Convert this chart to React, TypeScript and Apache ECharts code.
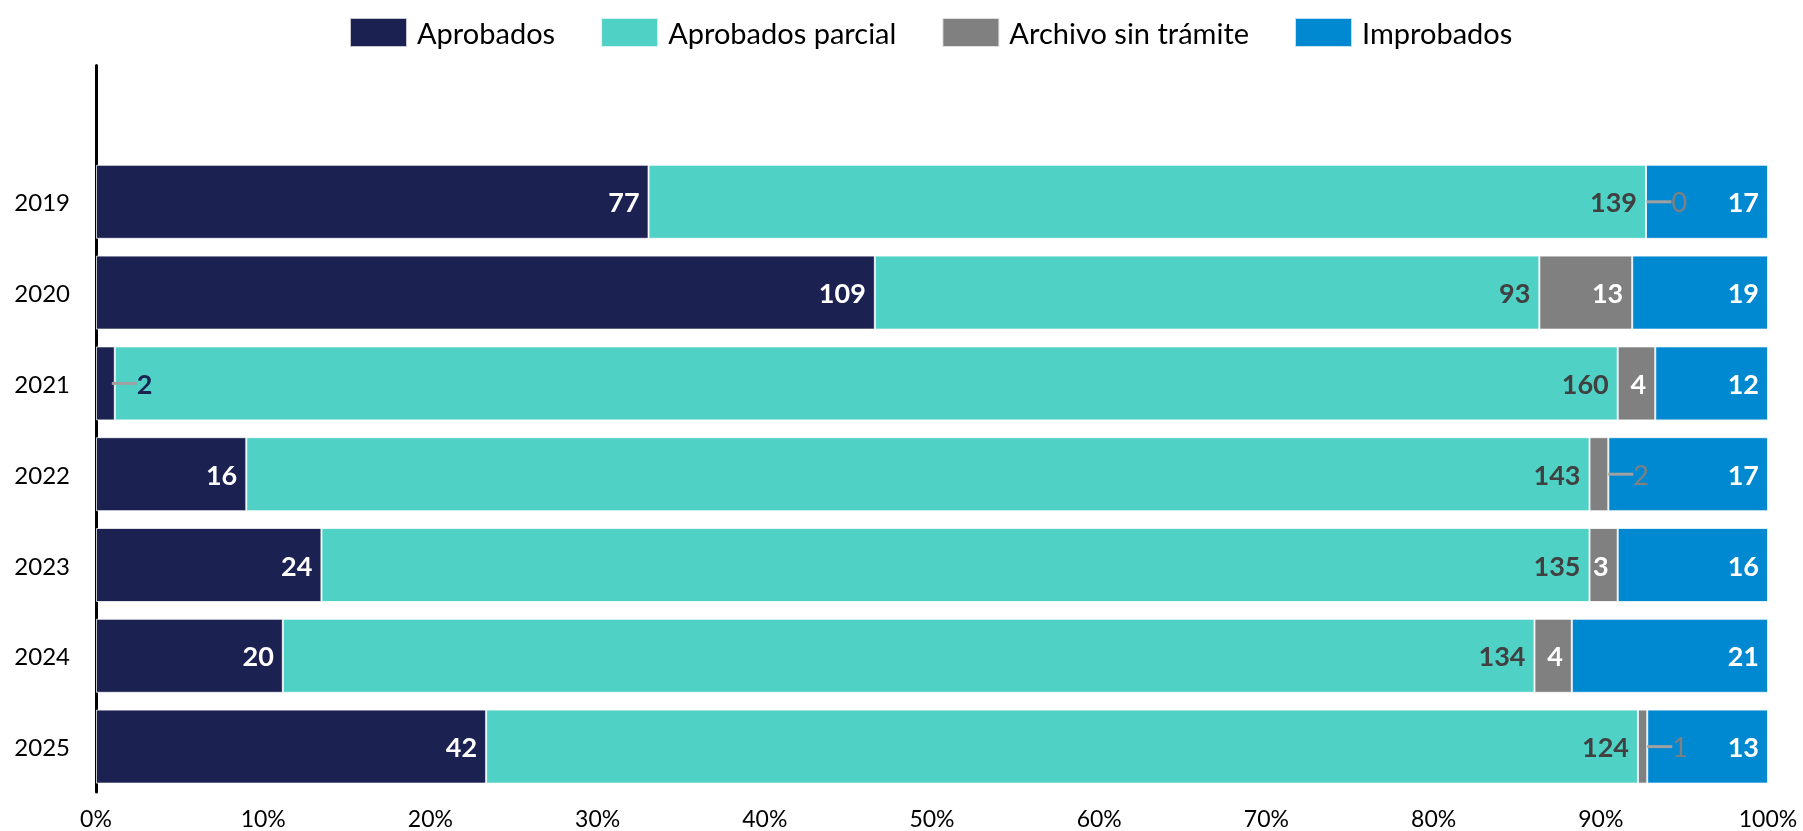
import React, { useEffect, useRef } from "react";
import * as echarts from "echarts";

const years = ["2019", "2020", "2021", "2022", "2023", "2024", "2025"];
const aprobados = [77, 109, 2, 16, 24, 20, 42];
const aprobadosParcial = [139, 93, 160, 143, 135, 134, 124];
const archivoSinTramite = [0, 13, 4, 2, 3, 4, 1];
const improbados = [17, 19, 12, 17, 16, 21, 13];
const xTicks = [0, 10, 20, 30, 40, 50, 60, 70, 80, 90, 100];

const seriesNames = ["Aprobados", "Aprobados parcial", "Archivo sin trámite", "Improbados"];
const colors = ["#1b2150", "#4fd1c5", "#808080", "#0088d1"];
const labelColors = ["#ffffff", "#404040", "#ffffff", "#ffffff"];
// small segments whose label sits outside with a leader line: [seriesIndex, yearIndex, textColor, bold]
const outsideLabels: [number, number, string, boolean][] = [
  [2, 0, "#808080", false],
  [0, 2, "#1b2150", true],
  [2, 3, "#808080", false],
  [2, 6, "#808080", false],
];

export default function App() {
  const ref = useRef<HTMLDivElement>(null);
  useEffect(() => {
    if (!ref.current) return;
    const chart = echarts.init(ref.current, undefined, { renderer: "svg" });
    const raw = [aprobados, aprobadosParcial, archivoSinTramite, improbados];
    const totals = years.map((_, i) => raw.reduce((s, arr) => s + arr[i], 0));
    const order = years.map((_, i) => years.length - 1 - i); // bottom to top
    const cats = [...order.map((i) => years[i]), ""];
    const font = "Lato";

    const series = raw.map((arr, si) => ({
      name: seriesNames[si],
      type: "bar",
      stack: "total",
      barCategoryGap: "18.5%",
      itemStyle: { color: colors[si], borderColor: "rgba(255,255,255,0.75)", borderWidth: 1 },
      label: {
        show: true,
        position: "insideRight",
        distance: 9,
        color: labelColors[si],
        fontFamily: font,
        fontWeight: "bold",
        fontSize: 27,
      },
      data: order.map((yi) => {
        const item: any = {
          value: (arr[yi] / totals[yi]) * 100,
          label: { formatter: String(arr[yi]) },
        };
        const o = outsideLabels.find((x) => x[0] === si && x[1] === yi);
        if (o) {
          item.label = {
            position: "right",
            distance: si === 0 ? -3 : 0,
            formatter: "{l|}{v|" + arr[yi] + "}",
            rich: {
              l: { width: 25, height: 3, backgroundColor: "#a0a0a0", verticalAlign: "middle" },
              v: {
                fontFamily: font,
                fontSize: 27,
                color: o[2],
                fontWeight: o[3] ? "bold" : "normal",
                verticalAlign: "middle",
              },
            },
          };
        }
        return item;
      }),
    }));

    chart.setOption({
      animation: false,
      color: colors,
      legend: {
        top: 12,
        left: 344,
        itemWidth: 57,
        itemHeight: 29,
        itemGap: 45,
        icon: "rect",
        textStyle: { fontFamily: font, fontSize: 29, color: "#000", padding: [0, 0, 0, 5] },
        data: seriesNames,
      },
      grid: { left: 96, right: 35, top: 65.6, bottom: 39, containLabel: false },
      xAxis: {
        type: "value",
        min: xTicks[0],
        max: xTicks[xTicks.length - 1],
        interval: 10,
        axisLine: { show: false },
        axisTick: { show: false },
        splitLine: { show: false },
        axisLabel: {
          formatter: "{value}%",
          fontFamily: font,
          fontSize: 23,
          color: "#000",
          margin: 14,
        },
      },
      yAxis: {
        type: "category",
        data: cats,
        axisLine: { show: true, lineStyle: { color: "#000", width: 3 } },
        axisTick: { show: false },
        axisLabel: { fontFamily: font, fontSize: 24, color: "#000", margin: 26 },
      },
      series,
    });
    return () => chart.dispose();
  }, []);
  return <div ref={ref} style={{ position: "fixed", left: 0, top: 0, width: 1803, height: 831 }} />;
}
